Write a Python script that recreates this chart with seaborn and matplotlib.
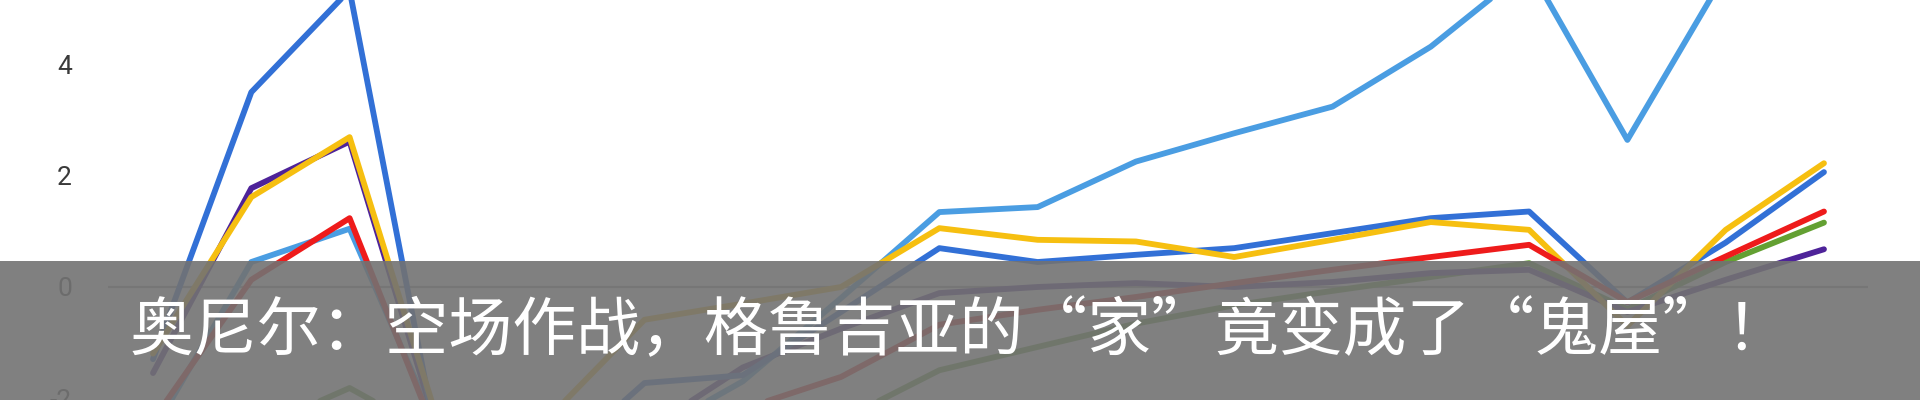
import matplotlib.pyplot as plt
import pandas as pd
import seaborn as sns
from matplotlib.patches import Rectangle

# 18 games, values (parts hidden below the frame are estimates)
games = list(range(18))
light_blue = [-2.6, 0.45, 1.05, -3.0, -3.4, -2.7, -1.7, -0.2, 1.35, 1.44, 2.26, 2.77, 3.25, 4.33, 5.75, 2.65, 5.66, 6.3]
green = [-3.0, -2.6, -1.82, -2.8, -3.4, -3.2, -2.9, -2.4, -1.50, -1.08, -0.66, -0.33, -0.07, 0.18, 0.43, -0.40, 0.45, 1.16]
purple = [-1.55, 1.78, 2.62, -3.2, -3.4, -2.6, -1.45, -0.75, -0.11, 0.0, 0.07, 0.0, 0.09, 0.25, 0.31, -0.45, 0.13, 0.68]
dark_blue = [-1.3, 3.51, 5.35, -3.8, -3.3, -1.73, -1.59, -0.45, 0.70, 0.45, 0.58, 0.70, 0.97, 1.24, 1.36, -0.28, 0.80, 2.07]
yellow = [-1.2, 1.62, 2.70, -3.0, -2.4, -0.59, -0.30, 0.0, 1.06, 0.85, 0.82, 0.54, 0.85, 1.17, 1.03, -0.70, 1.03, 2.23]
red = [-2.4, 0.13, 1.24, -3.2, -3.2, -2.9, -2.2, -1.62, -0.68, -0.41, -0.18, 0.07, 0.31, 0.54, 0.76, -0.27, 0.55, 1.36]

y_ticks = [-2, 0, 2, 4]
y_tick_labels = ["-2", "0", "2", "4"]
title = "奥尼尔：空场作战，格鲁吉亚的“家”竟变成了“鬼屋”！"

series = {
    "light_blue": light_blue,
    "green": green,
    "purple": purple,
    "dark_blue": dark_blue,
    "yellow": yellow,
    "red": red,
}
palette = {
    "light_blue": "#4a9de2",
    "green": "#63a032",
    "purple": "#4e2399",
    "dark_blue": "#3270d6",
    "yellow": "#f6bf10",
    "red": "#ee1b1b",
}

df = pd.concat(
    [pd.DataFrame({"game": games, "value": vals, "series": name}) for name, vals in series.items()],
    ignore_index=True,
)

sns.set_theme(style="white")
plt.rcParams["font.family"] = ["Noto Sans CJK SC", "DejaVu Sans"]

fig = plt.figure(figsize=(19.2, 4), dpi=100)
ax = fig.add_axes([108 / 1920, 0, 1760 / 1920, 1])

ax.axhline(0, color="#9a9a9a", lw=1.5, zorder=0.5)
sns.lineplot(
    data=df, x="game", y="value", hue="series", hue_order=list(series),
    palette=palette, linewidth=4.2, legend=False, ax=ax, solid_capstyle="round",
)

ax.set_xlim(-0.458, 17.448)
ax.set_ylim(-2.036, 5.171)
ax.set_xticks([])
ax.set_yticks(y_ticks)
ax.set_yticklabels(y_tick_labels)
ax.tick_params(axis="y", length=0, pad=26, labelsize=19, labelcolor="#3a3a3a")
for lbl in ax.get_yticklabels():
    lbl.set_fontfamily("Roboto")
ax.set_xlabel("")
ax.set_ylabel("")
for s in ax.spines.values():
    s.set_visible(False)

# caption banner over the chart
fig.add_artist(Rectangle((0, 0), 1, 139 / 400, transform=fig.transFigure,
                         facecolor="#727272", alpha=0.9, edgecolor="none", zorder=10))
fig.text(0.5, 1 - 332 / 400, title, ha="center", va="center", color="white",
         fontsize=46, zorder=11, family=["Noto Sans CJK SC", "DejaVu Sans"])

fig.savefig("out.png", dpi=100)
plt.close(fig)
